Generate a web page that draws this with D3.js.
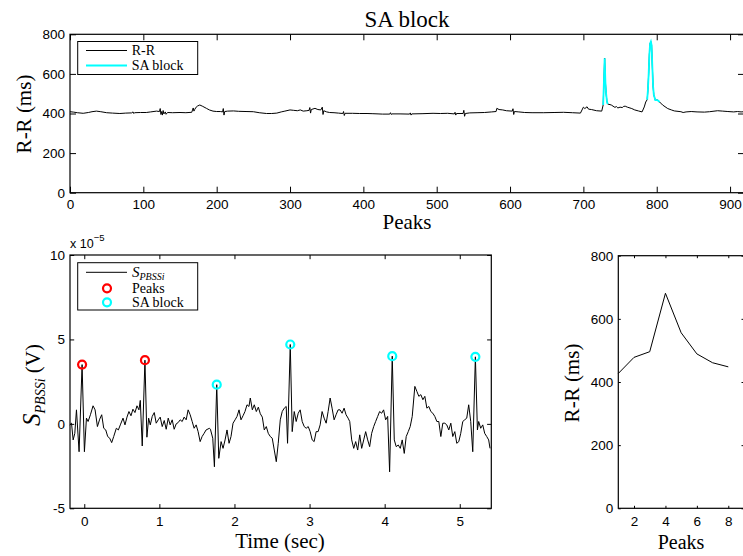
<!DOCTYPE html>
<html>
<head>
<meta charset="utf-8">
<script src="https://cdn.jsdelivr.net/npm/d3@7"></script>
<style>
  body { margin: 0; background: #fff; }
  .serif { font-family: "Liberation Serif", "Times New Roman", serif; fill: #000; }
</style>
</head>
<body>
<div id="chart"></div>
<script>
// R-R intervals over all peaks (peak index, ms)
const rrPeak = [0,5,10,18,25,30,36,42,50,58,68,76,84,86,87,88,96,104,110,118,122,123,124,125,126,127,128,130,131,133,
  140,150,158,166,168,169,170,172,174,177,181,186,190,195,200,205,208,209,210,211,215,223,230,240,250,258,268,275,282,288,
  293,300,305,310,314,318,323,326,327,328,329,334,338,342,344,345,346,350,354,360,366,372,373,374,375,385,395,405,413,420,
  426,436,437,438,439,450,463,464,465,466,480,495,505,515,524,525,526,527,536,537,538,539,545,555,565,575,581,582,585,590,
  595,603,604,605,606,612,620,630,646,660,673,685,696,700,702,705,707,711,718,725,727,729,730,731,732,733,738,743,745,747,
  750,753,755,757,760,766,770,775,780,783,785,787,788,789,790,791,792,793,794,795,796,798,801,804,808,815,820,824,833,836,
  840,847,855,865,872,883,890,897,905,910,915,919];
const rrValue = [409,407,404,401,405,409,412,409,404,402,400,402,403,408,400,404,405,405,408,412,410,425,395,410,392,415,398,408,396,405,
  404,405,404,406,428,412,420,432,438,443,436,426,418,412,410,410,408,425,392,410,412,413,411,410,409,404,400,400,402,408,
  412,418,416,414,418,412,414,416,430,402,420,426,420,418,432,395,414,408,405,404,402,400,410,390,401,401,400,400,399,398,
  397,397,404,395,398,398,397,403,392,398,399,401,400,401,398,406,392,400,400,416,386,400,403,404,405,408,410,426,420,418,
  414,412,424,395,410,408,405,404,404,405,406,404,402,432,425,434,422,420,414,412,443,679,560,500,465,448,443,431,435,428,
  432,430,436,437,432,425,418,413,408,433,458,470,520,600,700,754,763,745,640,540,495,468,468,458,443,425,418,413,409,405,
  408,410,408,407,409,414,412,410,408,410,408,409];
// peak ranges flagged as SA block
const saStart = [726, 786];
const saEnd = [734, 806];

// PBSSi signal (seconds, x1e-5 V)
const sigTime = [-0.193,-0.170,-0.148,-0.126,-0.104,-0.069,-0.029,0.002,0.029,0.051,0.082,0.117,0.144,0.175,0.206,0.232,0.259,0.286,0.312,0.339,
  0.365,0.392,0.427,0.454,0.480,0.516,0.542,0.569,0.595,0.622,0.648,0.675,0.702,0.728,0.746,0.772,0.808,0.834,0.857,0.879,
  0.905,0.932,0.958,0.985,1.011,1.038,1.065,1.091,1.118,1.144,1.171,1.197,1.224,1.251,1.277,1.304,1.330,1.357,1.383,1.410,
  1.437,1.463,1.490,1.516,1.543,1.569,1.596,1.622,1.667,1.680,1.711,1.733,1.764,1.791,1.822,1.848,1.875,1.901,1.928,1.954,
  1.981,2.008,2.034,2.061,2.087,2.114,2.140,2.167,2.193,2.211,2.238,2.264,2.291,2.318,2.344,2.371,2.397,2.424,2.450,2.477,
  2.503,2.530,2.557,2.583,2.610,2.636,2.663,2.689,2.707,2.743,2.769,2.796,2.822,2.849,2.875,2.902,2.929,2.955,2.982,3.008,
  3.035,3.061,3.088,3.114,3.141,3.167,3.194,3.221,3.247,3.274,3.300,3.327,3.353,3.380,3.406,3.433,3.460,3.486,3.513,3.535,
  3.561,3.588,3.614,3.641,3.668,3.694,3.721,3.747,3.774,3.800,3.827,3.854,3.880,3.907,3.933,3.960,3.986,4.013,4.040,4.066,
  4.101,4.128,4.154,4.181,4.208,4.234,4.261,4.287,4.314,4.340,4.367,4.402,4.429,4.455,4.482,4.509,4.535,4.562,4.588,4.615,
  4.641,4.668,4.695,4.721,4.748,4.774,4.801,4.827,4.854,4.881,4.907,4.934,4.960,4.987,5.013,5.040,5.066,5.093,5.119,5.146,
  5.173,5.208,5.235,5.252,5.279,5.306,5.332,5.359,5.385,5.403];
const sigValue = [-0.06,0.04,-0.95,-0.56,0.83,-1.65,3.51,-1.65,0.34,0.14,0.54,1.07,0.83,-0.16,0.28,0.54,-0.26,-0.36,-0.75,-0.85,
  -1.11,-0.75,-0.26,-0.36,-0.06,0.34,-0.06,0.40,0.73,0.48,0.87,0.67,1.07,0.83,1.39,-1.31,3.77,-0.79,0.34,-0.06,
  0.44,0.67,0.04,0.24,0.40,-0.16,0.20,-0.32,0.34,-0.06,0.24,-0.32,0.00,0.08,0.24,0.14,0.40,0.24,0.83,0.54,
  0.14,-0.26,-0.06,-0.46,-1.05,-0.75,-0.56,-0.36,-0.26,-0.32,-0.85,-2.54,2.32,-2.04,-1.05,-1.45,-0.95,-0.36,-1.15,-0.75,
  0.04,0.24,0.44,0.83,0.24,0.48,0.73,1.13,1.03,1.53,0.83,1.13,0.73,0.99,0.60,0.40,-0.36,-0.16,-0.56,-0.75,
  -0.85,-1.55,-2.24,-1.15,0.24,0.73,0.93,1.03,-1.15,4.70,-0.46,0.73,0.14,0.63,0.83,0.14,-0.16,-0.26,-0.16,-0.46,
  -0.95,-1.05,-0.46,-0.46,-0.06,0.73,0.34,0.04,0.73,1.53,0.93,0.24,0.54,0.83,0.83,0.63,0.93,0.54,0.34,0.14,
  -0.95,-1.45,-1.05,-1.55,-0.65,-1.45,-0.95,-0.46,-0.95,-1.35,-0.56,-0.16,0.14,0.44,0.73,0.63,0.83,0.24,0.44,-2.84,
  4.01,-0.95,-1.35,-1.25,-1.45,-0.95,-1.75,-0.75,-0.46,-0.16,0.44,2.22,1.92,1.63,1.73,1.43,1.63,0.93,1.03,0.73,
  0.63,0.44,0.14,0.14,-0.75,0.04,0.04,-0.06,-0.36,0.04,-0.75,-0.46,-1.15,-1.05,-0.56,0.14,0.24,0.34,1.13,0.14,
  -1.65,3.97,-0.36,0.14,-0.26,-0.06,-0.56,-0.75,-0.95,-1.45];

// detected peaks on the signal
const peakTime = [-0.029, 0.808, 1.764, 2.743, 4.101, 5.208];
const peakValue = [3.51, 3.77, 2.32, 4.70, 4.01, 3.97];
const peakType = ["Peaks", "Peaks", "SA block", "SA block", "SA block", "SA block"];

// zoomed R-R around the block
const zoomPeak = [1, 2, 3, 4, 5, 6, 7, 8];
const zoomRR = [427, 478, 496, 681, 556, 489, 461, 448];

const width = 743, height = 556;
const svg = d3.select("#chart").append("svg")
  .attr("width", width).attr("height", height)
  .attr("viewBox", [0, 0, width, height]);

const peakColor = {"Peaks": "#ff0000", "SA block": "#00ffff"};

// box with inward ticks on all four sides, like matlab
function drawAxes(x, y, xTicks, yTicks, tickLen, xPad) {
  const [x0, x1] = x.range(), [y0, y1] = y.range();
  const style = g => {
    g.select(".domain").remove();
    g.attr("font-family", "'Liberation Sans', Arial, sans-serif").attr("font-size", 13.5);
    g.selectAll(".tick line").attr("stroke", "#000");
    g.selectAll(".tick text").attr("fill", "#000");
  };
  svg.append("g").attr("transform", `translate(0,${y0})`)
    .call(d3.axisBottom(x).tickValues(xTicks).tickSize(-tickLen).tickPadding(xPad).tickFormat(d => String(d)))
    .call(style);
  svg.append("g").attr("transform", `translate(0,${y1})`)
    .call(d3.axisTop(x).tickValues(xTicks).tickSize(-tickLen).tickFormat(""))
    .call(style);
  svg.append("g").attr("transform", `translate(${x0},0)`)
    .call(d3.axisLeft(y).tickValues(yTicks).tickSize(-tickLen).tickPadding(5).tickFormat(d => String(d)))
    .call(style);
  svg.append("g").attr("transform", `translate(${x1},0)`)
    .call(d3.axisRight(y).tickValues(yTicks).tickSize(-tickLen).tickFormat(""))
    .call(style);
  svg.append("rect")
    .attr("x", x0).attr("y", y1).attr("width", x1 - x0).attr("height", y0 - y1)
    .attr("fill", "none").attr("stroke", "#000").attr("stroke-width", 1.2);
}

// ---- top: R-R over all peaks ----
const x1 = d3.scaleLinear().domain([0, 919]).range([70, 744]);
const y1 = d3.scaleLinear().domain([0, 800]).range([192.7, 34.3]);
const rrData = rrPeak.map((p, i) => ({p: p, v: rrValue[i]}));

const rrLine = d3.line().x(d => x1(d.p)).y(d => y1(d.v));
svg.append("path").datum(rrData)
  .attr("fill", "none").attr("stroke", "#000").attr("stroke-width", 1)
  .attr("d", rrLine);

for (let k = 0; k < saStart.length; k++) {
  let seg = rrData.filter(d => d.p >= saStart[k] && d.p <= saEnd[k]);
  svg.append("path").datum(seg)
    .attr("fill", "none").attr("stroke", "#00ffff").attr("stroke-width", 1.8)
    .attr("d", rrLine);
}
drawAxes(x1, y1, d3.range(0, 901, 100), d3.range(0, 801, 200), 6, 7);

svg.append("text").attr("class", "serif")
  .attr("x", 407).attr("y", 26.5).attr("text-anchor", "middle")
  .attr("font-size", 23).text("SA block");
svg.append("text").attr("class", "serif")
  .attr("x", 407).attr("y", 229).attr("text-anchor", "middle")
  .attr("font-size", 21).text("Peaks");
svg.append("text").attr("class", "serif")
  .attr("transform", "translate(31,114) rotate(-90)").attr("text-anchor", "middle")
  .attr("font-size", 21).text("R-R (ms)");

// legend (top)
let leg1 = svg.append("g");
leg1.append("rect").attr("x", 77.7).attr("y", 41.5).attr("width", 120).attr("height", 33)
  .attr("fill", "#fff").attr("stroke", "#000").attr("stroke-width", 1);
[["R-R", "#000", 1, 50.5], ["SA block", "#00ffff", 1.8, 65.5]].forEach(([name, col, sw, cy]) => {
  leg1.append("line").attr("x1", 86).attr("x2", 127).attr("y1", cy).attr("y2", cy)
    .attr("stroke", col).attr("stroke-width", sw);
  leg1.append("text").attr("class", "serif").attr("x", 131.7).attr("y", cy + 4.5)
    .attr("font-size", 14).text(name);
});

// ---- bottom left: signal ----
const x2 = d3.scaleLinear().domain([-0.19, 5.42]).range([70, 491.3]);
const y2 = d3.scaleLinear().domain([-5, 10]).range([508.3, 255]);

svg.append("path").datum(sigTime.map((t, i) => [t, sigValue[i]]))
  .attr("fill", "none").attr("stroke", "#000").attr("stroke-width", 1)
  .attr("d", d3.line().x(d => x2(d[0])).y(d => y2(d[1])));

svg.append("g").selectAll("circle")
  .data(peakTime.map((t, i) => ({t: t, v: peakValue[i], type: peakType[i]})))
  .join("circle")
  .attr("cx", d => x2(d.t)).attr("cy", d => y2(d.v)).attr("r", 4)
  .attr("fill", "none").attr("stroke", d => peakColor[d.type]).attr("stroke-width", 2.2);

drawAxes(x2, y2, [0, 1, 2, 3, 4, 5], [-5, 0, 5, 10], 4.2, 8);

let expo = svg.append("text").attr("x", 70).attr("y", 247.5)
  .attr("font-family", "'Liberation Sans', Arial, sans-serif").attr("font-size", 12.5).attr("fill", "#000");
expo.append("tspan").text("x 10");
expo.append("tspan").attr("dy", -7).attr("font-size", 9.5).text("\u22125");

svg.append("text").attr("class", "serif")
  .attr("x", 280).attr("y", 548).attr("text-anchor", "middle")
  .attr("font-size", 21).text("Time (sec)");

let ylab = svg.append("text").attr("class", "serif")
  .attr("transform", "translate(40,385) rotate(-90)").attr("text-anchor", "middle");
ylab.append("tspan").attr("font-style", "italic").attr("font-size", 25).text("S");
ylab.append("tspan").attr("font-style", "italic").attr("font-size", 14).attr("dy", 5).text("PBSSi");
ylab.append("tspan").attr("font-size", 21).attr("dy", -5).text(" (V)");

// legend (signal)
let leg2 = svg.append("g");
leg2.append("rect").attr("x", 77.7).attr("y", 262.7).attr("width", 120).attr("height", 47.3)
  .attr("fill", "#fff").attr("stroke", "#000").attr("stroke-width", 1);
leg2.append("line").attr("x1", 86).attr("x2", 127).attr("y1", 272.3).attr("y2", 272.3)
  .attr("stroke", "#000").attr("stroke-width", 1);
let lt = leg2.append("text").attr("class", "serif").attr("x", 132).attr("y", 276.5);
lt.append("tspan").attr("font-style", "italic").attr("font-size", 15).text("S");
lt.append("tspan").attr("font-style", "italic").attr("font-size", 10).attr("dy", 3).text("PBSSi");
[["Peaks", 288.3], ["SA block", 302.3]].forEach(([name, cy]) => {
  leg2.append("circle").attr("cx", 107).attr("cy", cy).attr("r", 4)
    .attr("fill", "none").attr("stroke", peakColor[name]).attr("stroke-width", 2.2);
  leg2.append("text").attr("class", "serif").attr("x", 132).attr("y", cy + 4.5)
    .attr("font-size", 14).text(name);
});

// ---- bottom right: zoomed R-R ----
const x3 = d3.scaleLinear().domain([1, 9]).range([618.3, 744]);
const y3 = d3.scaleLinear().domain([0, 800]).range([508.3, 255.7]);

svg.append("path").datum(zoomPeak.map((p, i) => [p, zoomRR[i]]))
  .attr("fill", "none").attr("stroke", "#000").attr("stroke-width", 1)
  .attr("d", d3.line().x(d => x3(d[0])).y(d => y3(d[1])));

drawAxes(x3, y3, [2, 4, 6, 8], d3.range(0, 801, 200), 2.5, 8);

svg.append("text").attr("class", "serif")
  .attr("x", 681).attr("y", 549).attr("text-anchor", "middle")
  .attr("font-size", 20).text("Peaks");
svg.append("text").attr("class", "serif")
  .attr("transform", "translate(579,383) rotate(-90)").attr("text-anchor", "middle")
  .attr("font-size", 21).text("R-R (ms)");
</script>
</body>
</html>
